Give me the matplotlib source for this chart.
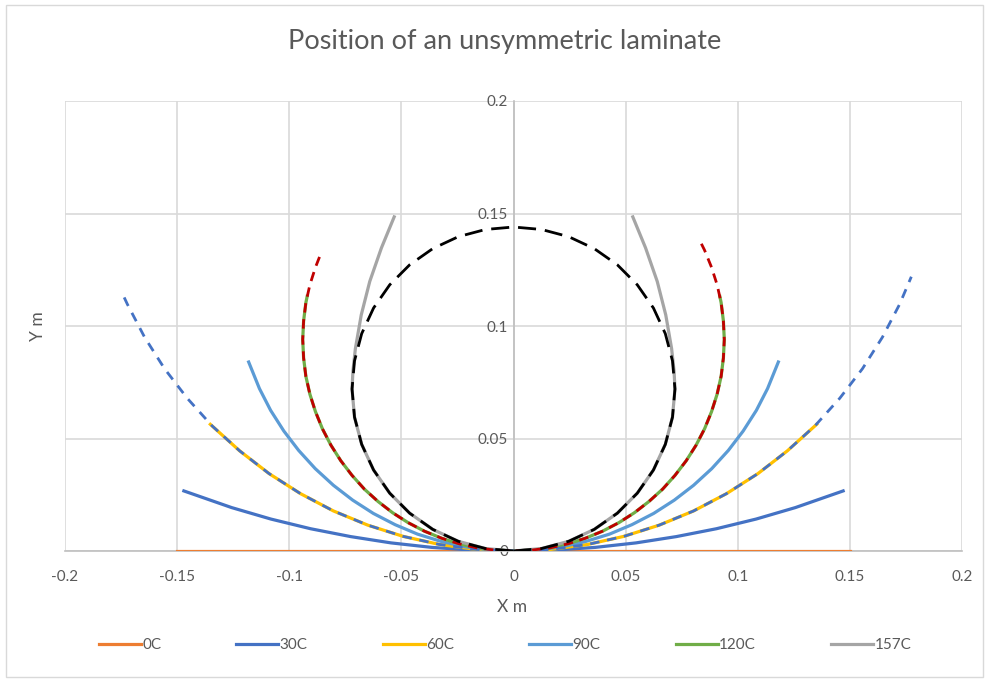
import matplotlib.pyplot as plt
from matplotlib.patches import Rectangle

plt.rcParams['font.family'] = ['Lato', 'DejaVu Sans']

# Curves (x, y in metres)
x_0c = [-0.15, 0.15]
y_0c = [0.0, 0.0]

x_30c = [-0.147, -0.1257, -0.1082, -0.0905, -0.0726, -0.0546, -0.0364, -0.0182, 0.0,
         0.0182, 0.0364, 0.0546, 0.0726, 0.0905, 0.1082, 0.1257, 0.147]
y_30c = [0.0267, 0.0193, 0.0142, 0.0099, 0.0064, 0.0036, 0.0016, 0.0004, 0.0,
         0.0004, 0.0016, 0.0036, 0.0064, 0.0099, 0.0142, 0.0193, 0.0267]

x_60c = [-0.1352, -0.1221, -0.1090, -0.0950, -0.0803, -0.0650, -0.0492, -0.0330, -0.0166, 0.0,
         0.0166, 0.0330, 0.0492, 0.0650, 0.0803, 0.0950, 0.1090, 0.1221, 0.1352]
y_60c = [0.0563, 0.0445, 0.0344, 0.0255, 0.0178, 0.0115, 0.0065, 0.0029, 0.0007, 0.0,
         0.0007, 0.0029, 0.0065, 0.0115, 0.0178, 0.0255, 0.0344, 0.0445, 0.0563]

x_90c = [-0.1181, -0.1133, -0.1083, -0.1024, -0.0958, -0.0884, -0.0803, -0.0717, -0.0625,
         -0.0528, -0.0428, -0.0324, -0.0217, -0.0109, 0.0,
         0.0109, 0.0217, 0.0324, 0.0428, 0.0528, 0.0625, 0.0717, 0.0803, 0.0884,
         0.0958, 0.1024, 0.1083, 0.1133, 0.1181]
y_90c = [0.0840, 0.0722, 0.0625, 0.0533, 0.0447, 0.0366, 0.0292, 0.0226, 0.0167,
         0.0117, 0.0075, 0.0043, 0.0019, 0.0005, 0.0,
         0.0005, 0.0019, 0.0043, 0.0075, 0.0117, 0.0167, 0.0226, 0.0292, 0.0366,
         0.0447, 0.0533, 0.0625, 0.0722, 0.0840]

x_120c = [-0.0920, -0.0926, -0.0936, -0.0940, -0.0936, -0.0926, -0.0908, -0.0883, -0.0852,
          -0.0814, -0.0770, -0.0720, -0.0665, -0.0604, -0.0539, -0.0470, -0.0397, -0.0321,
          -0.0243, -0.0163, -0.0082, 0.0,
          0.0082, 0.0163, 0.0243, 0.0321, 0.0397, 0.0470, 0.0539, 0.0604, 0.0665, 0.0720,
          0.0770, 0.0814, 0.0852, 0.0883, 0.0908, 0.0926, 0.0936, 0.0940, 0.0936, 0.0926, 0.0920]
y_120c = [0.1132, 0.1103, 0.1022, 0.0940, 0.0858, 0.0777, 0.0697, 0.0619, 0.0543,
          0.0470, 0.0401, 0.0336, 0.0275, 0.0220, 0.0170, 0.0126, 0.0088, 0.0057,
          0.0032, 0.0014, 0.0004, 0.0,
          0.0004, 0.0014, 0.0032, 0.0057, 0.0088, 0.0126, 0.0170, 0.0220, 0.0275, 0.0336,
          0.0401, 0.0470, 0.0543, 0.0619, 0.0697, 0.0777, 0.0858, 0.0940, 0.1022, 0.1103, 0.1132]

x_157c = [-0.0532, -0.0589, -0.0641, -0.0679, -0.0705, -0.0716, -0.0720, -0.0709, -0.0677,
          -0.0624, -0.0552, -0.0463, -0.0360, -0.0246, -0.0125, 0.0,
          0.0125, 0.0246, 0.0360, 0.0463, 0.0552, 0.0624, 0.0677, 0.0709, 0.0720,
          0.0716, 0.0705, 0.0679, 0.0641, 0.0589, 0.0532]
y_157c = [0.1485, 0.1347, 0.1198, 0.1049, 0.0900, 0.0800, 0.0720, 0.0595, 0.0474,
          0.0360, 0.0257, 0.0168, 0.0096, 0.0043, 0.0011, 0.0,
          0.0011, 0.0043, 0.0096, 0.0168, 0.0257, 0.0360, 0.0474, 0.0595, 0.0720,
          0.0800, 0.0900, 0.1049, 0.1198, 0.1347, 0.1485]

# dashed reference curves
x_blue_dash = [-0.1736, -0.1722, -0.1645, -0.1556, -0.1455, -0.1344, -0.1221, -0.1090, -0.0950,
               -0.0803, -0.0650, -0.0492, -0.0330, -0.0166, 0.0,
               0.0166, 0.0330, 0.0492, 0.0650, 0.0803, 0.0950, 0.1090, 0.1221, 0.1344,
               0.1455, 0.1556, 0.1645, 0.1722, 0.1774]
y_blue_dash = [0.1127, 0.1097, 0.0950, 0.0810, 0.0679, 0.0556, 0.0445, 0.0344, 0.0255,
               0.0178, 0.0115, 0.0065, 0.0029, 0.0007, 0.0,
               0.0007, 0.0029, 0.0065, 0.0115, 0.0178, 0.0255, 0.0344, 0.0445, 0.0556,
               0.0679, 0.0810, 0.0950, 0.1097, 0.1219]

x_red_dash = [-0.0865, -0.0883, -0.0908, -0.0926, -0.0936, -0.0940, -0.0936, -0.0926, -0.0908,
              -0.0883, -0.0852, -0.0814, -0.0770, -0.0720, -0.0665, -0.0604, -0.0539, -0.0470,
              -0.0397, -0.0321, -0.0243, -0.0163, -0.0082, 0.0,
              0.0082, 0.0163, 0.0243, 0.0321, 0.0397, 0.0470, 0.0539, 0.0604, 0.0665, 0.0720,
              0.0770, 0.0814, 0.0852, 0.0883, 0.0908, 0.0926, 0.0936, 0.0940, 0.0936, 0.0926,
              0.0908, 0.0883, 0.0852, 0.0830]
y_red_dash = [0.1307, 0.1261, 0.1183, 0.1103, 0.1022, 0.0940, 0.0858, 0.0777, 0.0697,
              0.0619, 0.0543, 0.0470, 0.0401, 0.0336, 0.0275, 0.0220, 0.0170, 0.0126,
              0.0088, 0.0057, 0.0032, 0.0014, 0.0004, 0.0,
              0.0004, 0.0014, 0.0032, 0.0057, 0.0088, 0.0126, 0.0170, 0.0220, 0.0275, 0.0336,
              0.0401, 0.0470, 0.0543, 0.0619, 0.0697, 0.0777, 0.0858, 0.0940, 0.1022, 0.1103,
              0.1183, 0.1261, 0.1337, 0.1381]

x_circle = [0.0, 0.0125, 0.0246, 0.0360, 0.0463, 0.0552, 0.0624, 0.0677, 0.0709, 0.0720,
            0.0709, 0.0677, 0.0624, 0.0552, 0.0463, 0.0360, 0.0246, 0.0125, 0.0,
            -0.0125, -0.0246, -0.0360, -0.0463, -0.0552, -0.0624, -0.0677, -0.0709, -0.0720,
            -0.0709, -0.0677, -0.0624, -0.0552, -0.0463, -0.0360, -0.0246, -0.0125, 0.0]
y_circle = [0.0, 0.0011, 0.0043, 0.0096, 0.0168, 0.0257, 0.0360, 0.0474, 0.0595, 0.0720,
            0.0845, 0.0966, 0.1080, 0.1183, 0.1272, 0.1344, 0.1397, 0.1429, 0.1440,
            0.1429, 0.1397, 0.1344, 0.1272, 0.1183, 0.1080, 0.0966, 0.0845, 0.0720,
            0.0595, 0.0474, 0.0360, 0.0257, 0.0168, 0.0096, 0.0043, 0.0011, 0.0]

x_ticks = [-0.2, -0.15, -0.1, -0.05, 0, 0.05, 0.1, 0.15, 0.2]
x_tick_labels = ['-0.2', '-0.15', '-0.1', '-0.05', '0', '0.05', '0.1', '0.15', '0.2']
y_ticks = [0, 0.05, 0.1, 0.15, 0.2]
y_tick_labels = ['0', '0.05', '0.1', '0.15', '0.2']

txt = '#595959'

fig = plt.figure(figsize=(9.89, 6.82), dpi=100)
ax = fig.add_axes([65 / 989, 1 - 551 / 682, 897 / 989, 450 / 682])

# Series
lw = 2.3
ax.plot(x_0c, y_0c, color='#ED7D31', lw=lw, label='0C', zorder=3)
ax.plot(x_30c, y_30c, color='#4472C4', lw=lw, label='30C', zorder=3)
ax.plot(x_60c, y_60c, color='#FFC000', lw=lw, label='60C', zorder=3)
ax.plot(x_90c, y_90c, color='#5B9BD5', lw=lw, label='90C', zorder=3)
ax.plot(x_120c, y_120c, color='#70AD47', lw=lw, label='120C', zorder=3)
ax.plot(x_157c, y_157c, color='#A5A5A5', lw=lw, label='157C', zorder=3)

ax.plot(x_blue_dash, y_blue_dash, color='#4472C4', lw=2.0, dashes=(3.4, 2.8), zorder=4)
ax.plot(x_red_dash, y_red_dash, color='#C00000', lw=2.0, dashes=(3.4, 2.4), zorder=4)
ax.plot(x_circle, y_circle, color='black', lw=2.0, dashes=(6.5, 3.2), zorder=4)

# Axes
ax.set_xlim(-0.2, 0.2)
ax.set_ylim(0, 0.2)
ax.set_xticks(x_ticks)
ax.set_xticklabels(x_tick_labels)
ax.set_yticks(y_ticks)
ax.set_yticklabels(y_tick_labels)
ax.grid(True, color='#D9D9D9', lw=1.2, zorder=0)
ax.set_axisbelow(True)
for s in ['top', 'right']:
    ax.spines[s].set_visible(False)
ax.spines['left'].set_position(('data', 0))
ax.spines['left'].set_color('#BFBFBF')
ax.spines['left'].set_linewidth(1.2)
ax.spines['bottom'].set_color('#BFBFBF')
ax.spines['bottom'].set_linewidth(1.2)
ax.tick_params(axis='both', length=0, labelsize=11, labelcolor=txt)
ax.tick_params(axis='x', pad=14)
ax.tick_params(axis='y', pad=4)

# Text
fig.text(505 / 989, 1 - 42 / 682, 'Position of an unsymmetric laminate',
         ha='center', va='center', fontsize=19.5, color=txt)
fig.text(512 / 989, 1 - 607 / 682, 'X m', ha='center', va='center', fontsize=12.5, color=txt)
fig.text(38 / 989, 1 - 326 / 682, 'Y m', ha='center', va='center', fontsize=12.5,
         color=txt, rotation=90)

handles, labels = ax.get_legend_handles_labels()
fig.legend(handles, labels, loc='center', bbox_to_anchor=(505 / 989, 1 - 645 / 682),
           ncol=6, frameon=False, fontsize=11, labelcolor=txt,
           handlelength=2.75, handletextpad=0.1, columnspacing=4.9)

# chart border
fig.patches.append(Rectangle((0.006, 0.008), 0.988, 0.984, transform=fig.transFigure,
                             fill=False, edgecolor='#D9D9D9', lw=1))

plt.savefig('out.png', dpi=100)
